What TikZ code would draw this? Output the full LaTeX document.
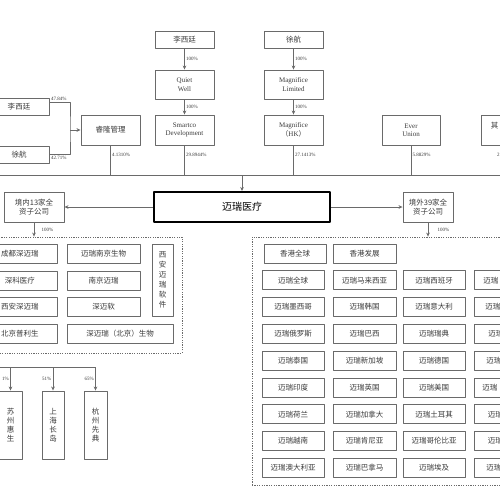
\documentclass[tikz,border=0pt]{standalone}
\usepackage{fontspec}
\setmainfont{Liberation Serif}
\newfontfamily\cjk{Noto Sans CJK SC}
\usetikzlibrary{arrows.meta}
\definecolor{linegray}{HTML}{6A6A6A}
\definecolor{textgray}{HTML}{3A3A3A}
\tikzset{
    box/.style={draw=linegray,line width=0.9pt,inner sep=0pt,align=center,
        text=textgray,font=\cjk\fontsize{7.5}{9}\selectfont},
    latinbox/.style={box,font=\fontsize{7}{8.5}\selectfont},
    tallbox/.style={box,font=\cjk\fontsize{7.5}{9.2}\selectfont},
    pct/.style={font=\fontsize{5}{6}\selectfont,text=textgray,inner sep=1.2pt},
    dotbox/.style={draw=linegray,dash pattern=on 1.2pt off 1.2pt,line width=0.8pt,inner sep=0pt},
}
\begin{document}
\begin{tikzpicture}[x=1pt,y=-1pt,line join=round,color=linegray,line width=0.8pt,
    >={Stealth[length=4pt,width=3.6pt]}]
    \useasboundingbox (0,0) rectangle (500,500);
    \clip (0,0) rectangle (500,500);
    % shareholders
    \node[box,minimum width=59,minimum height=17] (lixtTop) at (184.5,39.5) {李西廷};
    \node[latinbox,minimum width=59,minimum height=29] (quiet) at (184.5,84.5) {Quiet\\Well};
    \node[latinbox,minimum width=59,minimum height=30] (smartco) at (184.5,130) {Smartco\\Development};
    \node[box,minimum width=59,minimum height=17] (xuhTop) at (293.5,39.5) {徐航};
    \node[latinbox,minimum width=59,minimum height=29] (magLtd) at (293.5,84.5) {Magnifice\\Limited};
    \node[latinbox,minimum width=59,minimum height=30] (magHK) at (293.5,130) {Magnifice\\{\cjk（}HK{\cjk ）}};
    \node[latinbox,minimum width=58,minimum height=30] (ever) at (411,130) {Ever\\Union};
    \node[box,minimum width=59,minimum height=30] (others) at (510.5,130) {};
    \node[box,draw=none,anchor=west] at (490.5,126) {其};
    \node[box,minimum width=59,minimum height=30] (ruilong) at (110.5,130) {睿隆管理};
    \node[box,minimum width=60,minimum height=17] (lixt) at (19,106.5) {李西廷};
    \node[box,minimum width=60,minimum height=17] (xuh) at (19,154.5) {徐航};
    \coordinate (fork) at (70,130);
    \draw ([yshift=4.5pt]lixt.east) -| (fork) |- (xuh.east);
    \node[pct,anchor=south west] at ([yshift=4.5pt]lixt.east) {47.84\%};
    \node[pct,anchor=north west] at (xuh.east) {42.71\%};
    \draw[->] (fork) -- (ruilong);
    \draw[->] (lixtTop) -- (quiet) node[pct,midway,right] {100\%};
    \draw[->] (quiet) -- (smartco) node[pct,midway,right] {100\%};
    \draw[->] (xuhTop) -- (magLtd) node[pct,midway,right] {100\%};
    \draw[->] (magLtd) -- (magHK) node[pct,midway,right] {100\%};
    % bus to the company
    \coordinate (busL) at (-5,175.5);
    \coordinate (busR) at (505,175.5);
    \draw (busL) -- (busR);
    \draw (ruilong) -- (ruilong |- busL) node[pct,pos=0.33,right] {4.1310\%};
    \draw (smartco) -- (smartco |- busL) node[pct,pos=0.33,right] {29.8944\%};
    \draw (magHK) -- (magHK |- busL) node[pct,pos=0.33,right] {27.1413\%};
    \draw (ever) -- (ever |- busL) node[pct,pos=0.33,right] {5.8829\%};
    \node[pct,anchor=west] at (495.5,155) {2};
    \node[box,draw=black,line width=2pt,minimum width=176,minimum height=30,
        text=black,font=\cjk\fontsize{10}{12}\selectfont] (mindray) at (242,207) {迈瑞医疗};
    \draw[->] (mindray.north |- busL) -- (mindray);
    % domestic side
    \node[box,minimum width=60,minimum height=30] (jingnei) at (34,207) {境内13家全\\资子公司};
    \draw[->] (mindray) -- (jingnei);
    \node[dotbox,minimum width=187,minimum height=116] (domestic) at (88.5,295) {};
    \draw[->] (jingnei) -- (jingnei |- domestic.north) node[pct,midway,right,xshift=6pt] {100\%};
    \node[box,minimum width=74,minimum height=19] (chengdu) at (20,253.5) {成都深迈瑞};
    \node[box,minimum width=74,minimum height=19] (shenke) at (20,280.5) {深科医疗};
    \node[box,minimum width=74,minimum height=19] (xian) at (20,307) {西安深迈瑞};
    \node[box,minimum width=74,minimum height=19] (beijing) at (20,333.5) {北京普利生};
    \node[box,minimum width=73,minimum height=19] (njbio) at (103.5,253.5) {迈瑞南京生物};
    \node[box,minimum width=73,minimum height=19] (nanjing) at (103.5,280.5) {南京迈瑞};
    \node[box,minimum width=73,minimum height=19] (shenmai) at (103.5,307) {深迈软};
    \node[box,minimum width=106,minimum height=19] (bjbio) at (120,333.5) {深迈瑞{\cjk（}北京{\cjk ）}生物};
    \node[tallbox,font=\cjk\fontsize{7.5}{10}\selectfont,minimum width=21,minimum height=72] (xasoft) at (162.5,280) {西\\安\\迈\\瑞\\软\\件};
    % held by the domestic group
    \node[tallbox,minimum width=23,minimum height=68] (suzhou) at (10.5,425) {苏\\州\\惠\\生};
    \node[tallbox,minimum width=22,minimum height=68] (shanghai) at (53,425) {上\\海\\长\\岛};
    \node[tallbox,minimum width=23,minimum height=68] (hangzhou) at (95.5,425) {杭\\州\\先\\典};
    \coordinate (subL) at (-5,367);
    \draw (subL) -- (hangzhou.north |- subL);
    \draw[->] (suzhou.north |- subL) -- (suzhou) node[pct,midway,left] {1\%};
    \draw[->] (shanghai.north |- subL) -- (shanghai) node[pct,midway,left] {51\%};
    \draw[->] (hangzhou.north |- subL) -- (hangzhou) node[pct,midway,left] {65\%};
    % overseas side
    \node[box,minimum width=50,minimum height=30] (jingwai) at (428,207) {境外39家全\\资子公司};
    \draw[->] (mindray) -- (jingwai);
    \node[dotbox,minimum width=253,minimum height=248] (overseas) at (378.5,361) {};
    \draw[->] (jingwai) -- (jingwai |- overseas.north) node[pct,midway,right,xshift=8pt] {100\%};
    \node[box,minimum width=62,minimum height=19] (hkGlobal) at (295,253.5) {香港全球};
    \node[box,minimum width=63,minimum height=19] (hkDev) at (364.5,253.5) {香港发展};
    \foreach \r/\a/\b/\c/\o in {
        1/迈瑞全球/迈瑞马来西亚/迈瑞西班牙/483,
        2/迈瑞墨西哥/迈瑞韩国/迈瑞意大利/485,
        3/迈瑞俄罗斯/迈瑞巴西/迈瑞瑞典/488,
        4/迈瑞泰国/迈瑞新加坡/迈瑞德国/486,
        5/迈瑞印度/迈瑞英国/迈瑞美国/482,
        6/迈瑞荷兰/迈瑞加拿大/迈瑞土耳其/487.5,
        7/迈瑞越南/迈瑞肯尼亚/迈瑞哥伦比亚/487.5,
        8/迈瑞澳大利亚/迈瑞巴拿马/迈瑞埃及/486}{
        \node[box,minimum width=62,minimum height=19] (os\r a) at (293,{253.5+26.8*\r}) {\a};
        \node[box,minimum width=63,minimum height=19] (os\r b) at (364.5,{253.5+26.8*\r}) {\b};
        \node[box,minimum width=62,minimum height=19] (os\r c) at (434,{253.5+26.8*\r}) {\c};
        \node[box,minimum width=62,minimum height=19] (os\r d) at (505,{253.5+26.8*\r}) {};
        \node[box,draw=none,anchor=west] at (\o,{253.5+26.8*\r}) {迈瑞};
    }
\end{tikzpicture}
\end{document}
